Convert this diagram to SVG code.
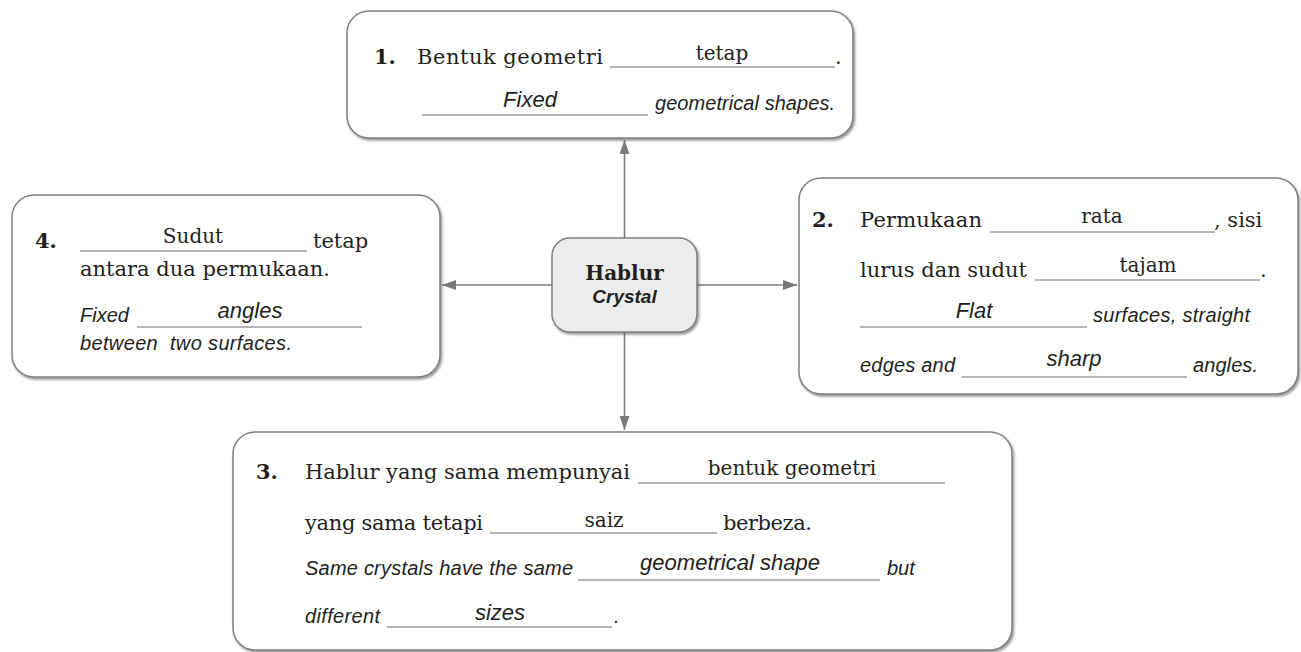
<svg xmlns="http://www.w3.org/2000/svg" width="1301" height="652" viewBox="0 0 1301 652">
  <defs>
    <filter id="shadow" x="-5%" y="-5%" width="110%" height="115%">
      <feDropShadow dx="1.5" dy="2" stdDeviation="1.2" flood-color="#555" flood-opacity="0.6"/>
    </filter>
    <marker id="arrow" viewBox="0 0 14 10" refX="14" refY="5" markerWidth="14" markerHeight="10" markerUnits="userSpaceOnUse" orient="auto">
      <path d="M0,0 L14,5 L0,10 Z" fill="#7a7a7a"/>
    </marker>
    <style>
      .box { fill: #ffffff; stroke: #808080; stroke-width: 1.5; filter: url(#shadow); }
      .hub { fill: #ececec; stroke: #808080; stroke-width: 1.5; filter: url(#shadow); }
      .conn { stroke: #7a7a7a; stroke-width: 1.6; fill: none; marker-end: url(#arrow); }
      .blank { stroke: #6e6e6e; stroke-width: 1.2; }
      .ms { font-family: "DejaVu Serif", "Liberation Serif", serif; font-size: 21px; fill: #231f20; }
      .num { font-family: "DejaVu Serif", "Liberation Serif", serif; font-size: 21px; font-weight: bold; fill: #231f20; }
      .en { font-family: "Liberation Sans", Arial, sans-serif; font-style: italic; font-size: 20px; fill: #231f20; white-space: pre; }
      .fill-ms { font-family: "DejaVu Serif", "Liberation Serif", serif; font-size: 20px; fill: #231f20; text-anchor: middle; }
      .fill-en { font-family: "Liberation Sans", Arial, sans-serif; font-style: italic; font-size: 22px; fill: #231f20; text-anchor: middle; }
    </style>
  </defs>

  <!-- connectors from the hub to the four property boxes -->
  <g id="connectors">
    <line class="conn" x1="624.5" y1="238" x2="624.5" y2="140"/>
    <line class="conn" x1="624.5" y1="332" x2="624.5" y2="430"/>
    <line class="conn" x1="552" y1="285" x2="442" y2="285"/>
    <line class="conn" x1="697" y1="285" x2="797" y2="285"/>
  </g>

  <!-- hub -->
  <g id="hablur">
    <rect class="hub" x="552" y="238" width="145" height="94" rx="18"/>
    <text x="624.5" y="280" text-anchor="middle" font-family="DejaVu Serif, Liberation Serif, serif" font-weight="bold" font-size="20" fill="#231f20">Hablur</text>
    <text x="624.5" y="303" text-anchor="middle" font-family="Liberation Sans, Arial, sans-serif" font-style="italic" font-weight="bold" font-size="19" fill="#231f20">Crystal</text>
  </g>

  <!-- 1: fixed geometrical shapes -->
  <g id="box1">
    <rect class="box" x="347" y="11" width="506" height="127" rx="22"/>
    <text class="num" x="374" y="64">1.</text>
    <text class="ms" x="417" y="64" textLength="186">Bentuk geometri</text>
    <line class="blank" x1="610" y1="67" x2="835" y2="67"/>
    <text class="fill-ms" font-family="DejaVu Serif, serif" x="722" y="60">tetap</text>
    <text class="ms" x="835" y="64">.</text>
    <line class="blank" x1="422" y1="115" x2="648" y2="115"/>
    <text class="fill-en" x="530" y="107">Fixed</text>
    <text class="en" x="655" y="110" textLength="180">geometrical shapes.</text>
  </g>

  <!-- 2: flat surfaces, straight edges, sharp angles -->
  <g id="box2">
    <rect class="box" x="799" y="178" width="499" height="216" rx="22"/>
    <text class="num" x="812" y="227">2.</text>
    <text class="ms" x="860" y="227" textLength="122">Permukaan</text>
    <line class="blank" x1="990" y1="232" x2="1215" y2="232"/>
    <text class="fill-ms" font-family="DejaVu Serif, serif" x="1102" y="223">rata</text>
    <text class="ms" x="1214" y="227">, sisi</text>
    <text class="ms" x="860" y="277" textLength="167">lurus dan sudut</text>
    <line class="blank" x1="1035" y1="280" x2="1260" y2="280"/>
    <text class="fill-ms" font-family="DejaVu Serif, serif" x="1148" y="272">tajam</text>
    <text class="ms" x="1260" y="277">.</text>
    <line class="blank" x1="860" y1="327" x2="1087" y2="327"/>
    <text class="fill-en" x="974" y="318">Flat</text>
    <text class="en" x="1093" y="322" textLength="157">surfaces, straight</text>
    <text class="en" x="860" y="372" textLength="95">edges and</text>
    <line class="blank" x1="962" y1="377" x2="1187" y2="377"/>
    <text class="fill-en" x="1074" y="366">sharp</text>
    <text class="en" x="1193" y="372" textLength="65">angles.</text>
  </g>

  <!-- 3: same shape, different sizes -->
  <g id="box3">
    <rect class="box" x="233" y="432" width="779" height="218" rx="22"/>
    <text class="num" x="256" y="479">3.</text>
    <text class="ms" x="305" y="479" textLength="325">Hablur yang sama mempunyai</text>
    <line class="blank" x1="638" y1="483" x2="945" y2="483"/>
    <text class="fill-ms" font-family="DejaVu Serif, serif" x="792" y="475">bentuk geometri</text>
    <text class="ms" x="305" y="530" textLength="178">yang sama tetapi</text>
    <line class="blank" x1="490" y1="533" x2="717" y2="533"/>
    <text class="fill-ms" font-family="DejaVu Serif, serif" x="604" y="527">saiz</text>
    <text class="ms" x="723" y="530" textLength="89">berbeza.</text>
    <text class="en" x="305" y="575" textLength="268">Same crystals have the same</text>
    <line class="blank" x1="578" y1="580" x2="880" y2="580"/>
    <text class="fill-en" x="730" y="570">geometrical shape</text>
    <text class="en" x="887" y="575">but</text>
    <text class="en" x="305" y="623" textLength="75">different</text>
    <line class="blank" x1="387" y1="627" x2="612" y2="627"/>
    <text class="fill-en" x="500" y="620">sizes</text>
    <text class="en" x="614" y="623">.</text>
  </g>

  <!-- 4: fixed angles between two surfaces -->
  <g id="box4">
    <rect class="box" x="12" y="195" width="428" height="182" rx="22"/>
    <text class="num" x="35" y="248">4.</text>
    <line class="blank" x1="80" y1="251" x2="307" y2="251"/>
    <text class="fill-ms" font-family="DejaVu Serif, serif" x="193" y="243">Sudut</text>
    <text class="ms" x="313" y="248">tetap</text>
    <text class="ms" x="80" y="276" textLength="250">antara dua permukaan.</text>
    <text class="en" x="80" y="322">Fixed</text>
    <line class="blank" x1="137" y1="327" x2="362" y2="327"/>
    <text class="fill-en" x="250" y="318">angles</text>
    <text class="en" x="80" y="350" xml:space="preserve" textLength="212">between  two surfaces.</text>
  </g>
</svg>
